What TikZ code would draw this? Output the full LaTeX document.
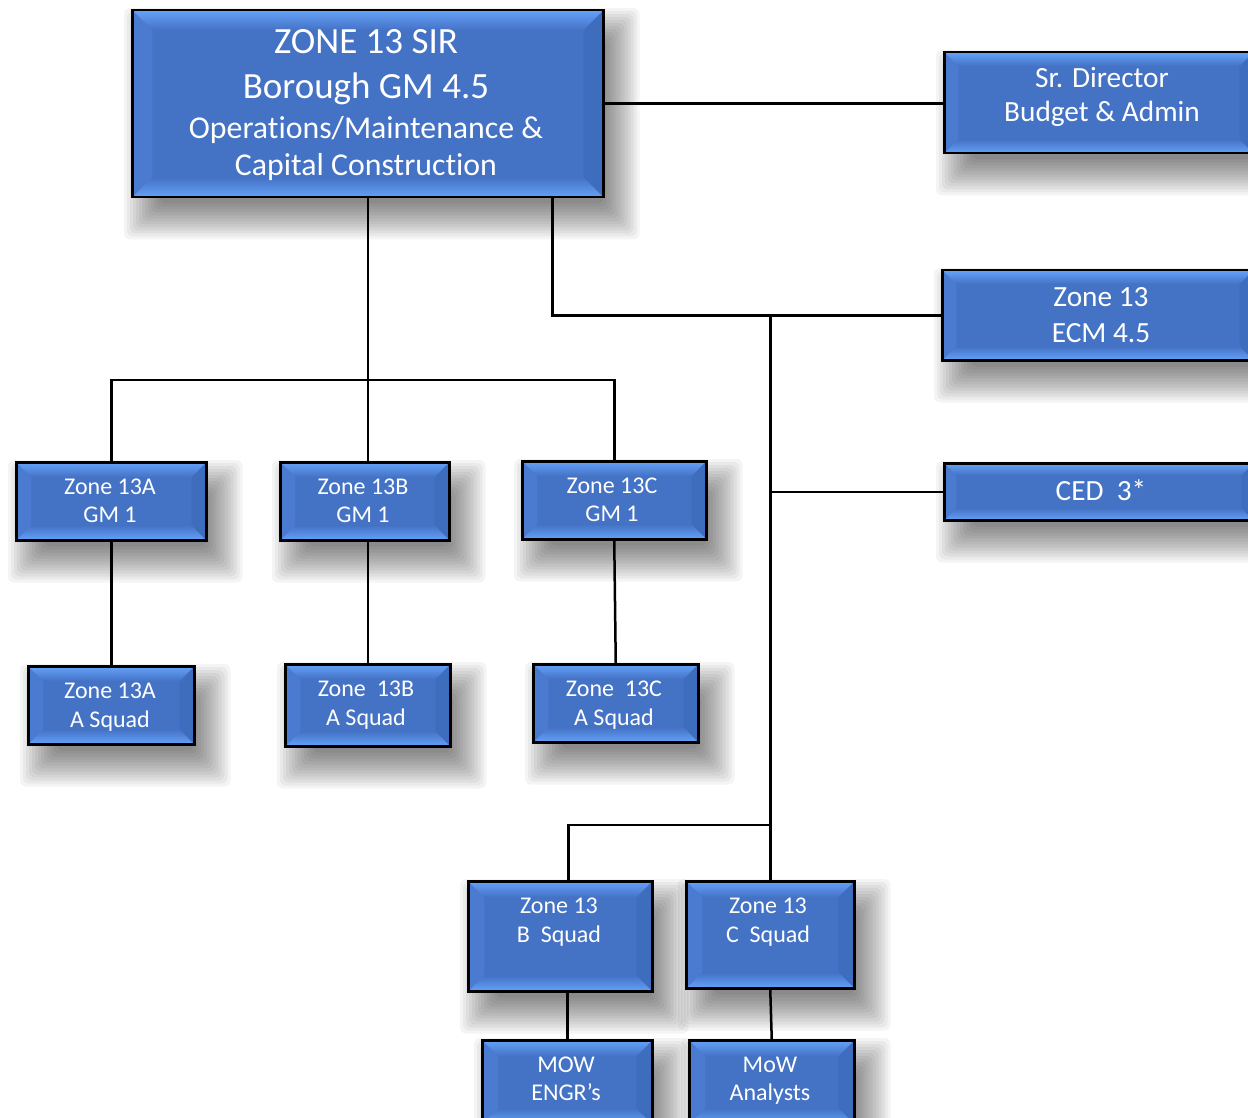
\documentclass[tikz,border=0pt]{standalone}
\usepackage{fontspec}
\setmainfont{Carlito}[Ligatures=NoCommon]
\pgfdeclarelayer{bglayer}
\pgfdeclarelayer{shadowlayer}
\pgfsetlayers{bglayer,shadowlayer,main}
\definecolor{bmain}{HTML}{4472C4}
\definecolor{blight}{HTML}{64A2FA}
\definecolor{bleft}{HTML}{4A7BD0}
\definecolor{bright}{HTML}{3F6DBE}
\tikzset{
  bevelbox/.style={draw=black, line width=2.5pt, fill=bmain, inner sep=0pt, anchor=north west,
    path picture={
      \path (path picture bounding box.north west) coordinate (pNW)
            (path picture bounding box.north east) coordinate (pNE)
            (path picture bounding box.south west) coordinate (pSW)
            (path picture bounding box.south east) coordinate (pSE);
      \fill[bleft] (pNW) -- ([xshift=#1pt,yshift=-#1pt]pNW) -- ([xshift=#1pt,yshift=#1pt]pSW) -- (pSW) -- cycle;
      \fill[bright] (pNE) -- ([xshift=-#1pt,yshift=-#1pt]pNE) -- ([xshift=-#1pt,yshift=#1pt]pSE) -- (pSE) -- cycle;
      \shade[top color=blight, bottom color=bmain] (pNW) -- (pNE) -- ([xshift=-#1pt,yshift=-#1pt]pNE) -- ([xshift=#1pt,yshift=-#1pt]pNW) -- cycle;
      \shade[top color=bmain, bottom color=blight] (pSW) -- (pSE) -- ([xshift=-#1pt,yshift=#1pt]pSE) -- ([xshift=#1pt,yshift=#1pt]pSW) -- cycle;
    }},
  shadowlayerstep/.style={fill=black, opacity=0.045, rounded corners=6pt},
  txt/.style={text=white, anchor=base, inner sep=0pt},
  big/.style={txt, font=\fontsize{37}{44}\selectfont},
  mid/.style={txt, font=\fontsize{31.8}{38}\selectfont},
  rgt/.style={txt, font=\fontsize{29.3}{35}\selectfont},
  sml/.style={txt, font=\fontsize{24}{29}\selectfont},
  conn/.style={draw=black, line width=2.5pt},
}
\newcommand\mydropshadow[1]{%
  \foreach \r in {-15,-12,...,21}{%
    \fill[shadowlayerstep]
      ([xshift={(14-(\r))*1pt}, yshift={((\r)-20)*1pt}]#1.north west) rectangle
      ([xshift={(14+(\r))*1pt}, yshift={(-20-(\r))*1pt}]#1.south east);
  }}
\begin{document}
\begin{tikzpicture}[x=1pt, y=-1pt]
\useasboundingbox (0,0) rectangle (1248,1118);
\begin{pgfonlayer}{bglayer}
\fill[white] (0,0) rectangle (1248,1118);
\end{pgfonlayer}

% boxes
\node[bevelbox=20, minimum width=471pt, minimum height=187pt] (top) at (131,9) {};
\node[bevelbox=14, minimum width=309pt, minimum height=101pt] (sr) at (943,51) {};
\node[bevelbox=14, minimum width=311pt, minimum height=90pt] (ecm) at (941,269) {};
\node[bevelbox=12, minimum width=309pt, minimum height=57pt] (ced) at (943,462) {};
\node[bevelbox=15, minimum width=190pt, minimum height=78pt] (a13gm) at (15,461) {};
\node[bevelbox=15, minimum width=169pt, minimum height=78pt] (b13gm) at (279,461) {};
\node[bevelbox=15, minimum width=184pt, minimum height=78pt] (c13gm) at (521,460) {};
\node[bevelbox=15, minimum width=166pt, minimum height=78pt] (a13sq) at (27,665) {};
\node[bevelbox=15, minimum width=165pt, minimum height=82pt] (b13sq) at (284,663) {};
\node[bevelbox=15, minimum width=165pt, minimum height=78pt] (c13sq) at (532,663) {};
\node[bevelbox=16, minimum width=184pt, minimum height=110pt] (bsq) at (467,880) {};
\node[bevelbox=16, minimum width=168pt, minimum height=107pt] (csq) at (685,880) {};
\node[bevelbox=16, minimum width=170pt, minimum height=84pt] (mow) at (481,1039) {};
\node[bevelbox=16, minimum width=165pt, minimum height=84pt] (ana) at (688,1039) {};

\begin{pgfonlayer}{shadowlayer}
\foreach \n in {top,sr,ecm,ced,a13gm,b13gm,c13gm,a13sq,b13sq,c13sq,bsq,csq,mow,ana}{\mydropshadow{\n}}
\end{pgfonlayer}

% texts
\node[big] (t1) at (366,53.5) {ZONE 13 SIR};
\node[big] (t2) at (366,98.5) {Borough GM 4.5};
\node[mid] (t3) at (366,138.5) {Operations/Maintenance \&};
\node[mid] (t4) at (366,175.5) {Capital Construction};
\node[rgt] (s1) at (1102,88) {Sr. Director};
\node[rgt] (s2) at (1102,122) {Budget \& Admin};
\node[rgt] (e1) at (1101,306) {Zone 13};
\node[rgt] (e2) at (1101,342) {ECM 4.5};
\node[rgt] (c1) at (1101,500.5) {CED~~3*};
\node[sml] (ag1) at (110,494.5) {Zone 13A};
\node[sml] (ag2) at (110,522.5) {GM 1};
\node[sml] (bg1) at (363,494.5) {Zone 13B};
\node[sml] (bg2) at (363,522.5) {GM 1};
\node[sml] (cg1) at (612,493.5) {Zone 13C};
\node[sml] (cg2) at (612,521.5) {GM 1};
\node[sml] (as1) at (110,698.5) {Zone 13A};
\node[sml] (as2) at (110,727) {A Squad};
\node[sml] (bs1) at (366,696.5) {Zone~~13B};
\node[sml] (bs2) at (366,725) {A Squad};
\node[sml] (cs1) at (614,696.5) {Zone~~13C};
\node[sml] (cs2) at (614,725) {A Squad};
\node[sml] (bq1) at (559,913.5) {Zone 13};
\node[sml] (bq2) at (559,942) {B~~Squad};
\node[sml] (cq1) at (768,913.5) {Zone 13};
\node[sml] (cq2) at (768,942) {C~~Squad};
\node[sml] (m1) at (566,1072.5) {MOW};
\node[sml] (m2) at (566,1100.5) {ENGR’s};
\node[sml] (n1) at (770,1072.5) {MoW};
\node[sml] (n2) at (770,1100.5) {Analysts};

% connectors
\coordinate (bus) at (0,380);
\coordinate (bcbus) at (0,825);
\draw[conn] (top.east) -- (top.east -| sr.west);
\draw[conn] (top.south) -- (top.south |- b13gm.north);
\draw[conn] (a13gm.north) -- (a13gm.north |- bus) -- (c13gm.north |- bus) -- (c13gm.north);
\draw[conn] ([xshift=-52pt]top.south east) |- (ecm.west);
\draw[conn] (csq.north |- ecm.west) -- (csq.north);
\draw[conn] (csq.north |- ced.west) -- (ced.west);
\draw[conn] ([xshift=8pt]bsq.north) -- ([xshift=8pt]bsq.north |- bcbus) -- (csq.north |- bcbus);
\draw[conn] (a13gm.south) -- (a13sq.north);
\draw[conn] (b13sq.north |- b13gm.south) -- (b13sq.north);
\draw[conn] (c13gm.south) -- (c13sq.north);
\draw[conn] (mow.north |- bsq.south) -- (mow.north);
\draw[conn] (csq.south) -- (ana.north);
\end{tikzpicture}
\end{document}
